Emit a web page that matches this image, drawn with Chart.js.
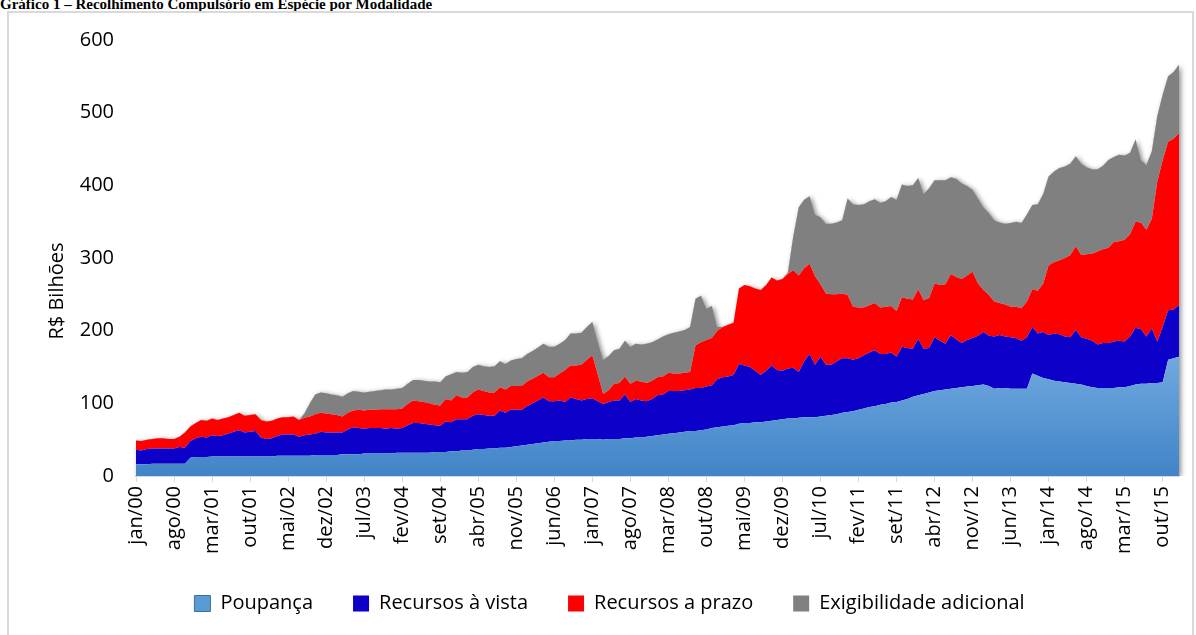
<!DOCTYPE html>
<html lang="pt-BR">
<head>
<meta charset="utf-8">
<title>Recolhimento Compulsório em Espécie por Modalidade</title>
<script src="https://cdn.jsdelivr.net/npm/chart.js@4.4.0/dist/chart.umd.min.js"></script>
<style>
  html, body { margin: 0; padding: 0; background: #fff; }
  body { width: 1196px; height: 635px; position: relative; overflow: hidden; }
  #titulo { position: absolute; left: 0; top: -3px; font: bold 15px "Liberation Serif", "Times New Roman", serif; line-height: 15px; white-space: nowrap; color: #000; }
  #moldura { position: absolute; left: 7px; top: 11px; width: 1187px; height: 640px; border: 2px solid #d9d9d9; box-sizing: border-box; }
  #grafico { position: absolute; left: 0; top: 0; }
</style>
</head>
<body>
<div id="titulo">Gráfico 1 – Recolhimento Compulsório em Espécie por Modalidade</div>
<div id="moldura"></div>
<canvas id="grafico" width="1196" height="635"></canvas>
<script>
// meses: jan/00 ... jan/16
var nomesMeses = ['jan', 'fev', 'mar', 'abr', 'mai', 'jun', 'jul', 'ago', 'set', 'out', 'nov', 'dez'];
var meses = [];
for (var a = 0; a <= 16; a++) {
    for (var m = 0; m < 12; m++) {
        if (a === 16 && m > 0) break;
        meses.push(nomesMeses[m] + '/' + (a < 10 ? '0' + a : '' + a));
    }
}

var tituloY = 'R$ Bilhões';
var nomesSeries = ['Poupança', 'Recursos à vista', 'Recursos a prazo', 'Exigibilidade adicional'];

// R$ bilhões
var poupanca = [
    16, 16, 16, 17, 17, 17, 17, 17, 17, 17,
    25, 26, 26, 26, 27, 27, 27, 27, 27, 27,
    27, 27, 27, 27, 27, 27, 28, 28, 28, 28,
    28, 28, 28, 29, 29, 29, 29, 29, 30, 30,
    30, 30, 31, 31, 31, 31, 31, 31, 32, 32,
    32, 32, 32, 32, 32, 33, 33, 33, 34, 34,
    35, 35, 36, 37, 37, 38, 38, 39, 39, 40,
    41, 42, 43, 44, 45, 46, 47, 48, 48, 49,
    49, 50, 50, 51, 51, 51, 50, 51, 51, 51,
    52, 52, 53, 53, 54, 55, 56, 57, 58, 59,
    60, 61, 62, 62, 63, 64, 66, 67, 68, 69,
    70, 72, 73, 73, 74, 74, 75, 76, 77, 78,
    79, 79, 80, 81, 81, 81, 82, 83, 84, 85,
    87, 88, 89, 91, 93, 95, 96, 98, 99, 101,
    102, 104, 106, 109, 111, 113, 115, 117, 118, 119,
    120, 121, 122, 123, 124, 125, 126, 124, 120, 121,
    121, 120, 120, 120, 120, 141, 138, 135, 133, 131,
    130, 129, 128, 127, 126, 124, 122, 121, 121, 121,
    121, 122, 122, 124, 126, 127, 127, 128, 128, 129,
    160, 162, 164
];
var recursosVista = [
    20, 19, 21, 21, 21, 21, 21, 21, 23, 22,
    23, 26, 28, 27, 29, 28, 29, 31, 34, 36,
    33, 34, 35, 26, 24, 25, 27, 29, 29, 29,
    26, 28, 29, 29, 32, 31, 31, 31, 30, 34,
    37, 36, 34, 35, 35, 35, 34, 35, 33, 34,
    38, 41, 41, 40, 39, 37, 36, 42, 40, 44,
    43, 43, 47, 48, 47, 45, 45, 51, 48, 51,
    50, 49, 53, 56, 59, 62, 56, 55, 56, 53,
    59, 56, 54, 55, 56, 52, 49, 51, 53, 53,
    60, 50, 53, 51, 49, 51, 55, 55, 59, 58,
    57, 57, 57, 59, 58, 59, 59, 66, 68, 68,
    69, 82, 79, 77, 71, 65, 70, 76, 69, 67,
    69, 70, 63, 77, 87, 72, 82, 70, 69, 73,
    75, 74, 71, 71, 73, 75, 77, 70, 69, 69,
    62, 74, 70, 66, 78, 62, 61, 74, 68, 63,
    74, 67, 61, 64, 66, 68, 72, 69, 72, 73,
    71, 71, 70, 66, 71, 64, 58, 63, 61, 65,
    65, 63, 63, 74, 65, 65, 64, 60, 62, 62,
    64, 64, 63, 68, 78, 75, 65, 75, 57, 76,
    68, 67, 71
];
var recursosPrazo = [
    13, 13, 13, 13, 14, 14, 13, 13, 14, 21,
    20, 21, 23, 23, 23, 22, 23, 23, 23, 24,
    23, 23, 23, 24, 24, 24, 24, 24, 24, 25,
    23, 24, 25, 27, 26, 26, 25, 24, 22, 23,
    23, 25, 25, 25, 25, 26, 27, 26, 27, 27,
    29, 31, 30, 30, 29, 28, 28, 31, 30, 33,
    30, 30, 32, 34, 33, 32, 32, 32, 32, 33,
    33, 33, 34, 34, 34, 34, 33, 33, 37, 44,
    44, 46, 49, 54, 59, 37, 14, 16, 23, 24,
    25, 25, 25, 26, 25, 25, 25, 25, 25, 24,
    24, 24, 24, 59, 63, 64, 65, 67, 69, 71,
    72, 104, 111, 111, 113, 117, 118, 121, 123, 126,
    130, 134, 133, 128, 124, 122, 100, 98, 97, 92,
    89, 87, 73, 70, 66, 65, 65, 64, 65, 64,
    63, 68, 68, 68, 68, 67, 69, 74, 77, 82,
    84, 86, 88, 89, 91, 72, 58, 56, 48, 44,
    44, 42, 43, 45, 49, 52, 59, 67, 96, 98,
    102, 108, 113, 115, 113, 116, 120, 128, 129, 131,
    137, 137, 140, 141, 146, 147, 147, 151, 220, 230,
    232, 235, 237
];
var exigibilidade = [
    0, 0, 0, 0, 0, 0, 0, 0, 0, 0,
    0, 0, 0, 0, 0, 0, 0, 0, 0, 0,
    0, 0, 0, 0, 0, 0, 0, 0, 0, 0,
    0, 6, 18, 27, 28, 28, 27, 27, 27, 27,
    27, 25, 25, 25, 26, 26, 27, 27, 28, 28,
    28, 28, 29, 29, 30, 32, 32, 31, 36, 32,
    34, 35, 35, 34, 34, 35, 36, 36, 35, 35,
    37, 38, 38, 38, 39, 40, 42, 42, 41, 41,
    44, 44, 44, 45, 46, 45, 47, 47, 46, 47,
    49, 51, 51, 51, 54, 53, 52, 55, 53, 56,
    58, 59, 62, 64, 64, 43, 44, 5, 0, 0,
    0, 0, 0, 0, 0, 0, 0, 0, 0, 0,
    2, 47, 94, 94, 93, 85, 92, 96, 97, 99,
    101, 133, 141, 141, 142, 143, 143, 144, 145, 150,
    153, 155, 155, 157, 153, 146, 151, 142, 144, 143,
    133, 135, 132, 123, 113, 117, 114, 113, 112, 111,
    111, 115, 117, 117, 120, 116, 119, 123, 122, 125,
    127, 126, 126, 124, 126, 120, 116, 113, 115, 121,
    117, 119, 116, 112, 113, 86, 89, 93, 90, 90,
    90, 92, 94
];

var corLegenda = ['#5b9bd5', '#0d00c9', '#ff0000', '#808080'];
var bordaLegenda = ['#3c70a4', '#0d00c9', '#ff0000', '#808080'];
var fonte = 'Open Sans';

// sombra suave no contorno superior (so fora da area)
var sombra = {
    id: 'sombra',
    beforeDatasetsDraw: function(chart) {
        var pts = chart.getDatasetMeta(3).data;
        var area = chart.chartArea;
        var c = chart.ctx;
        var contorno = function() {
            c.moveTo(pts[0].x, area.bottom);
            pts.forEach(function(p) { c.lineTo(p.x, p.y); });
            c.lineTo(pts[pts.length - 1].x, area.bottom);
            c.closePath();
        };
        c.save();
        c.beginPath();
        c.rect(0, 0, chart.width, area.bottom);
        contorno();
        c.clip('evenodd');
        c.beginPath();
        contorno();
        c.shadowColor = 'rgba(0,0,0,0.45)';
        c.shadowBlur = 5;
        c.shadowOffsetX = 2;
        c.shadowOffsetY = 1;
        c.fillStyle = '#808080';
        c.fill();
        c.restore();
    }
};

var tituloEixo = {
    id: 'tituloEixo',
    afterDraw: function(chart) {
        var c = chart.ctx;
        c.save();
        c.translate(57, 291);
        c.rotate(-Math.PI / 2);
        c.font = '20px "' + fonte + '"';
        c.fillStyle = '#000';
        c.textAlign = 'center';
        c.textBaseline = 'middle';
        c.fillText(tituloY, 0, 0);
        c.restore();
    }
};

var ctx = document.getElementById('grafico');
var grafico = new Chart(ctx, {
    type: 'line',
    data: {
        labels: meses,
        datasets: [{
            label: nomesSeries[0],
            data: poupanca,
            fill: 'origin',
            backgroundColor: function(context) {
                var ch = context.chart;
                if (!ch.chartArea) return corLegenda[0];
                var g = ch.ctx.createLinearGradient(0, ch.scales.y.getPixelForValue(170), 0, ch.chartArea.bottom);
                g.addColorStop(0, '#72aae0');
                g.addColorStop(1, '#4184c7');
                return g;
            }
        }, {
            label: nomesSeries[1],
            data: recursosVista,
            fill: '-1',
            backgroundColor: corLegenda[1]
        }, {
            label: nomesSeries[2],
            data: recursosPrazo,
            fill: '-1',
            backgroundColor: corLegenda[2]
        }, {
            label: nomesSeries[3],
            data: exigibilidade,
            fill: '-1',
            backgroundColor: corLegenda[3]
        }]
    },
    options: {
        responsive: false,
        animation: false,
        events: [],
        layout: { padding: { left: 40, right: 17, top: 40, bottom: 11.5 } },
        elements: {
            point: { radius: 0, hitRadius: 0 },
            line: { borderWidth: 0, tension: 0 }
        },
        scales: {
            x: {
                offset: false,
                grid: { display: true, drawOnChartArea: false, drawTicks: true, tickLength: 6, color: '#d9d9d9' },
                border: { display: true, color: '#d9d9d9', width: 2 },
                ticks: {
                    autoSkip: false, minRotation: 90, maxRotation: 90, padding: 4,
                    color: '#000', font: { family: fonte, size: 20 }
                },
                afterBuildTicks: function(axis) {
                    axis.ticks = axis.ticks.filter(function(t) { return t.value % 7 === 0; });
                },
                afterFit: function(s) { s.height = 77.5; }
            },
            y: {
                stacked: true,
                min: 0,
                max: 600,
                grid: { display: false, drawTicks: false },
                border: { display: false },
                ticks: { stepSize: 100, padding: 22, color: '#000', font: { family: fonte, size: 20 } },
                afterFit: function(s) { s.width = 96; }
            }
        },
        plugins: {
            legend: {
                position: 'bottom',
                maxHeight: 82,
                labels: {
                    boxWidth: 16,
                    boxHeight: 16,
                    padding: 40,
                    color: '#000',
                    font: { family: fonte, size: 20 },
                    generateLabels: function(chart) {
                        var itens = Chart.defaults.plugins.legend.labels.generateLabels(chart);
                        itens.forEach(function(it, i) {
                            it.fillStyle = corLegenda[i];
                            it.strokeStyle = bordaLegenda[i];
                            it.lineWidth = i === 0 ? 1 : 0;
                        });
                        return itens;
                    }
                }
            },
            tooltip: { enabled: false }
        }
    },
    plugins: [sombra, tituloEixo]
});
</script>
</body>
</html>
